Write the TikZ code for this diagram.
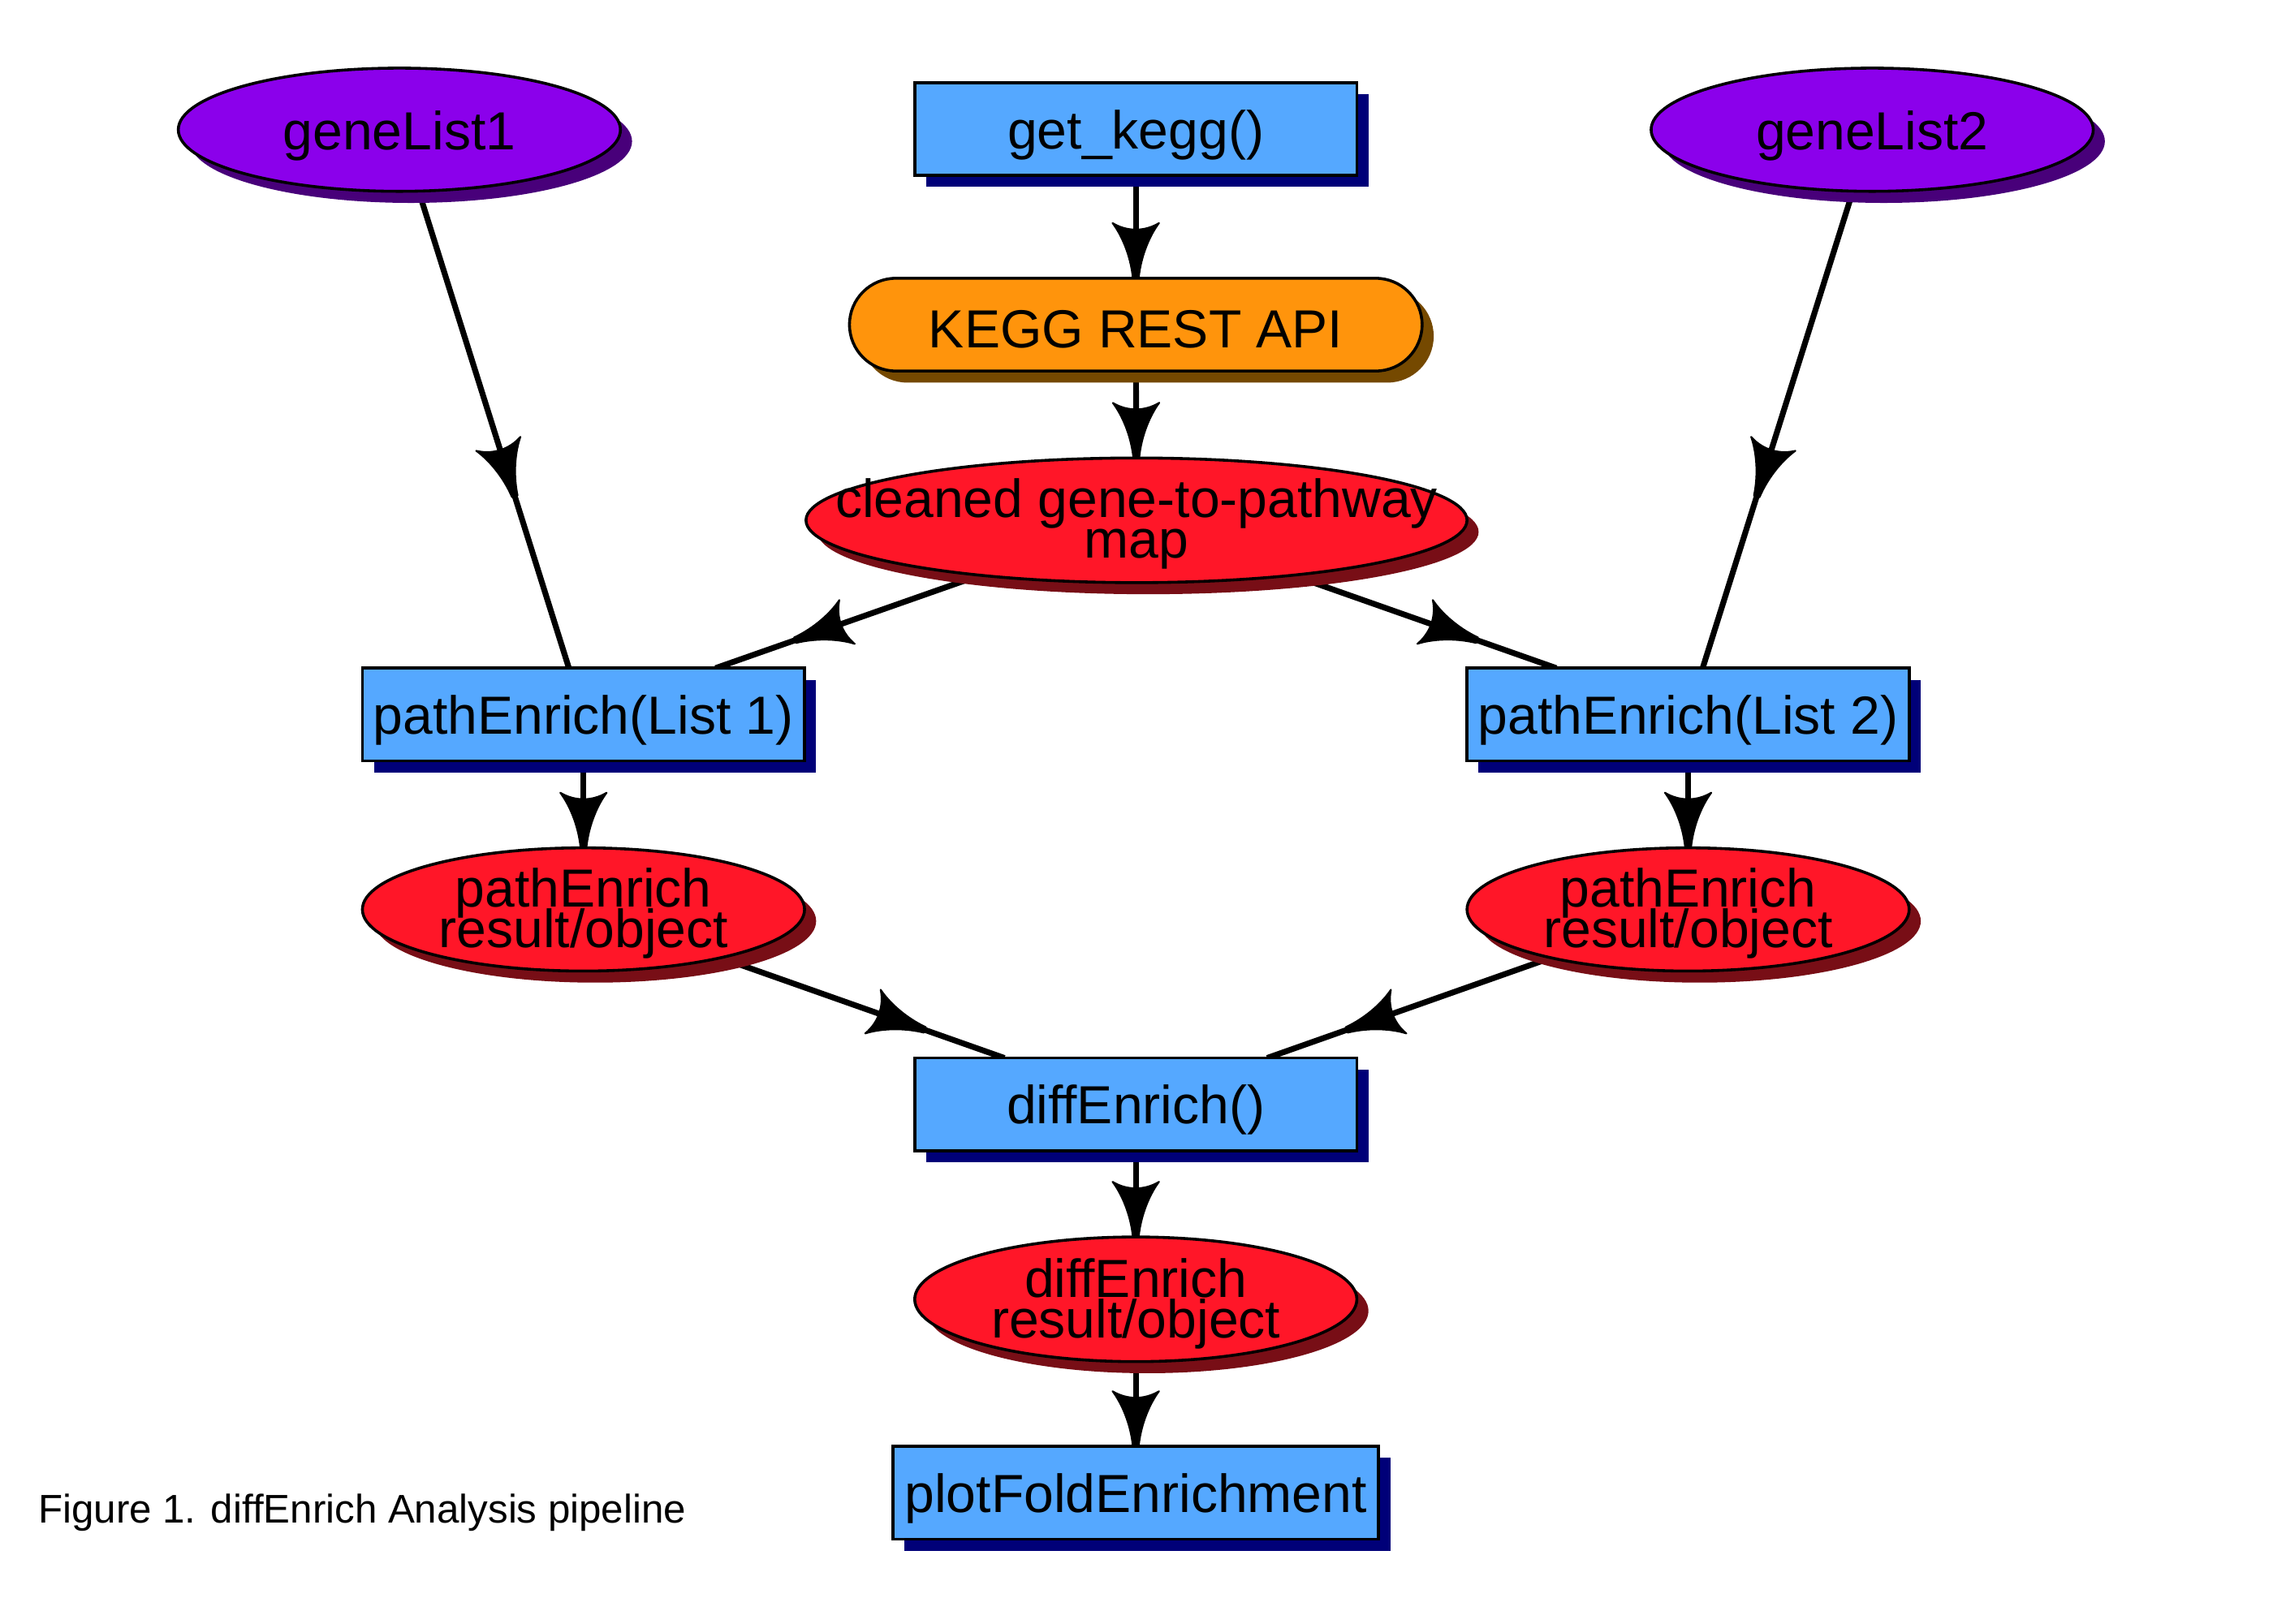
\documentclass[tikz,border=0pt]{standalone}
\usepackage{fontspec}
\setmainfont{Liberation Sans}
\usetikzlibrary{shapes.geometric,shapes.misc,shadows,decorations.markings}
\definecolor{purp}{RGB}{139,0,235}
\definecolor{purpsh}{RGB}{72,0,122}
\definecolor{bluef}{RGB}{85,168,255}
\definecolor{navysh}{RGB}{0,0,120}
\definecolor{orangef}{RGB}{255,148,12}
\definecolor{brownsh}{RGB}{117,73,0}
\definecolor{redf}{RGB}{255,22,40}
\definecolor{redsh}{RGB}{120,14,22}
\newcommand{\nodefont}{\fontsize{18.5}{14}\selectfont\lineskiplimit=-50pt\relax}
\newcommand{\myhead}{\filldraw[line width=0.6pt, line join=round] (0pt,1pt) .. controls (-8pt,1.8pt) and (-15pt,5pt) .. (-19pt,8pt) .. controls (-16pt,3pt) and (-16pt,-3pt) .. (-19pt,-8pt) .. controls (-15pt,-5pt) and (-8pt,-1.8pt) .. (0pt,-1pt) -- cycle;}
\pgfdeclarelayer{bg}
\pgfsetlayers{bg,main}
\tikzset{
  base/.style={draw=black, line width=1pt, inner sep=0pt, outer sep=0pt},
  boxn/.style={base, rectangle, fill=bluef, minimum width=152.5pt, minimum height=32pt,
    general shadow={fill=navysh, shadow xshift=4pt, shadow yshift=-4pt}},
  listn/.style={base, ellipse, fill=purp, minimum width=152.5pt, minimum height=42.5pt,
    general shadow={fill=purpsh, shadow xshift=4pt, shadow yshift=-4pt}},
  resn/.style={base, ellipse, fill=redf, minimum width=152.5pt, minimum height=43pt,
    general shadow={fill=redsh, shadow xshift=4pt, shadow yshift=-4pt}},
  apin/.style={base, rounded rectangle, fill=orangef, minimum width=197.5pt, minimum height=32pt,
    general shadow={fill=brownsh, shadow xshift=4pt, shadow yshift=-4pt}},
  txt/.style={inner sep=0pt, font=\nodefont, align=center},
  conn/.style={line width=2pt, draw=black},
  headat/.style={postaction={decorate, decoration={markings, mark=at position #1 with {\myhead}}}}
}
\begin{document}
\begin{tikzpicture}[x=0.5pt,y=-0.5pt]
\useasboundingbox (0,0) rectangle (1568,1120);
% shapes
\node[listn] (gl1) at (275.5,89.5) {};
\node[listn] (gl2) at (1291.5,89.5) {};
\node[boxn] (kegg) at (783.5,89) {};
\node[apin] (api) at (783.5,224) {};
\node[resn, minimum width=228pt] (map) at (784,359) {};
\node[boxn] (pe1) at (402.5,493) {};
\node[boxn] (pe2) at (1164.5,493) {};
\node[resn, minimum height=42.5pt] (r1) at (402.5,627.5) {};
\node[resn, minimum height=42.5pt] (r2) at (1164.5,627.5) {};
\node[boxn] (de) at (783.5,762) {};
\node[resn] (dr) at (783.5,896.5) {};
\node[boxn, minimum width=167.5pt] (pf) at (783.5,1030) {};
% texts
\node[txt] (gl1t) at ([yshift=-2pt]gl1.center) {geneList1};
\node[txt] (gl2t) at ([yshift=-2pt]gl2.center) {geneList2};
\node[txt] (keggt) at ([yshift=-2pt]kegg.center) {get\_kegg()};
\node[txt] (apit) at ([yshift=-1.5pt]api.center) {KEGG REST API};
\node[txt] (mapt) at ([yshift=-1.3pt]map.center) {cleaned gene-to-pathway\\map};
\node[txt] (pe1t) at ([yshift=-2pt]pe1.center) {pathEnrich(List 1)};
\node[txt] (pe2t) at ([yshift=-2pt]pe2.center) {pathEnrich(List 2)};
\node[txt] (r1t) at ([yshift=-1.5pt]r1.center) {pathEnrich\\result/object};
\node[txt] (r2t) at ([yshift=-1.5pt]r2.center) {pathEnrich\\result/object};
\node[txt] (det) at ([yshift=-2pt]de.center) {diffEnrich()};
\node[txt] (drt) at ([yshift=-1.5pt]dr.center) {diffEnrich\\result/object};
\node[txt] (pft) at ([yshift=-2pt]pf.center) {plotFoldEnrichment};
\node[inner sep=0pt, anchor=base west, font=\fontsize{13.8}{16}\selectfont] (cap) at (26,1050.6) {Figure 1. diffEnrich Analysis pipeline};
% connectors
\begin{pgfonlayer}{bg}
\draw[conn, headat=0.64] (gl1) -- (pe1);
\draw[conn, headat=0.64] (gl2) -- (pe2);
\draw[conn, headat=0.999] (kegg) -- (api);
\draw[conn, headat=0.999] (api) -- (map);
\draw[conn, headat=0.70] (map) -- (pe1);
\draw[conn, headat=0.70] (map) -- (pe2);
\draw[conn, headat=0.999] (pe1) -- (r1);
\draw[conn, headat=0.999] (pe2) -- (r2);
\draw[conn, headat=0.72] (r1) -- (de);
\draw[conn, headat=0.72] (r2) -- (de);
\draw[conn, headat=0.999] (de) -- (dr);
\draw[conn, headat=0.999] (dr) -- (pf);
\end{pgfonlayer}
\end{tikzpicture}
\end{document}
